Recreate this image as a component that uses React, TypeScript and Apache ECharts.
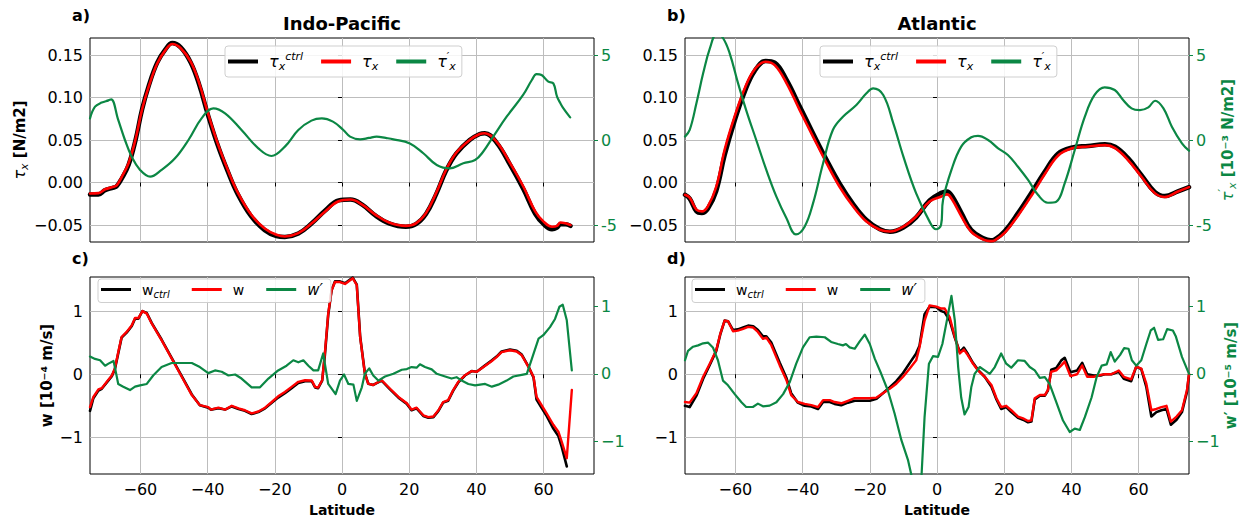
import React, { useEffect, useRef } from 'react';
import * as echarts from 'echarts';

// ---------------- data ----------------
const latTicks = [-60, -40, -20, 0, 20, 40, 60];
const tauTicks = [-0.05, 0, 0.05, 0.1, 0.15];
const tauPrimeTicks = [-5, 0, 5];
const wTicks = [-1, 0, 1];

// panel a: Indo-Pacific wind stress
const latA = [-75, -72.5, -70.5, -68, -67, -65.5, -63.5, -61.5, -59.5, -57.5, -55, -52.5, -50.5, -48, -45, -42.5, -40, -37, -34, -31, -27, -23, -19.5, -17, -13, -9, -5, -1, 2.5, 6, 10, 14, 19, 22, 25, 28, 31, 34, 38, 41, 42.5, 46, 50, 54, 57.5, 60, 62.5, 64, 65, 66.5, 68];
const tauA = [-0.013, -0.0125, -0.008, -0.005, -0.003, 0.007, 0.023, 0.05, 0.086, 0.113, 0.14, 0.156, 0.163, 0.158, 0.142, 0.117, 0.083, 0.046, 0.015, -0.012, -0.038, -0.054, -0.0615, -0.0635, -0.0596, -0.048, -0.034, -0.022, -0.02, -0.026, -0.038, -0.047, -0.051, -0.048, -0.036, -0.0125, 0.015, 0.035, 0.05, 0.057, 0.058, 0.048, 0.023, -0.005, -0.034, -0.046, -0.052, -0.051, -0.047, -0.048, -0.05];
const tauCtrlA = [-0.014, -0.014, -0.009, -0.006, -0.004, 0.005, 0.021, 0.049, 0.086, 0.114, 0.141, 0.157, 0.164, 0.159, 0.141, 0.115, 0.081, 0.044, 0.013, -0.014, -0.04, -0.056, -0.063, -0.064, -0.06, -0.048, -0.033, -0.021, -0.02, -0.026, -0.039, -0.048, -0.052, -0.049, -0.037, -0.014, 0.014, 0.034, 0.05, 0.057, 0.058, 0.047, 0.021, -0.008, -0.037, -0.049, -0.055, -0.053, -0.049, -0.049, -0.051];
const latPA = [-75, -73.5, -71.5, -69.5, -68.7, -66.6, -64.6, -62.6, -60.1, -57.1, -53.7, -49.7, -45.7, -41.8, -38.3, -34.8, -29.9, -24.9, -21, -17, -13, -9.1, -6, -2.7, 0.4, 2.4, 5.4, 8, 10.3, 13, 15.3, 20.2, 24.2, 28.2, 32.1, 36.1, 39.6, 42, 45, 49, 53.9, 56.5, 57.9, 59.4, 61.4, 62.9, 64, 65, 65.9, 67.9];
const tauPrimeA = [1.27, 1.96, 2.2, 2.33, 2.39, 1.18, 0, -0.98, -1.76, -2.16, -1.76, -1.08, 0, 1.27, 1.86, 1.57, 0.59, -0.49, -0.94, -0.39, 0.59, 1.14, 1.27, 1.08, 0.59, 0.2, 0.04, 0.12, 0.2, 0.12, 0.04, -0.2, -0.78, -1.47, -1.67, -1.37, -1.18, -0.69, 0.2, 1.37, 2.65, 3.53, 3.88, 3.82, 3.43, 3.33, 2.55, 2.16, 1.86, 1.33];

// panel b: Atlantic wind stress
const latB = [-75, -73.6, -71.6, -70, -68.2, -65.7, -63.2, -60.2, -57.2, -54.3, -51, -48.3, -44.8, -40.9, -36.9, -32.9, -29, -25, -21, -17, -14, -10, -6.2, -2.2, 1.3, 3, 4.5, 7.3, 10.2, 14, 16, 17.2, 20.2, 24.1, 28.1, 32.1, 36, 40, 45, 50, 53, 56.8, 60.8, 64.8, 67.8, 71.7, 75];
const tauB = [-0.0145, -0.018, -0.032, -0.034, -0.028, -0.005, 0.0385, 0.078, 0.111, 0.133, 0.142, 0.138, 0.117, 0.0855, 0.054, 0.023, -0.005, -0.028, -0.046, -0.0556, -0.0576, -0.0518, -0.04, -0.0224, -0.0165, -0.014, -0.02, -0.04, -0.058, -0.0675, -0.069, -0.068, -0.059, -0.039, -0.0155, 0.01, 0.0315, 0.04, 0.0424, 0.044, 0.0405, 0.0267, 0.007, -0.0125, -0.017, -0.0106, -0.0054];
const tauCtrlB = [-0.0145, -0.019, -0.034, -0.036, -0.031, -0.01, 0.032, 0.073, 0.107, 0.131, 0.143, 0.141, 0.121, 0.09, 0.058, 0.027, -0.001, -0.025, -0.044, -0.055, -0.058, -0.053, -0.041, -0.021, -0.012, -0.0105, -0.016, -0.036, -0.056, -0.066, -0.068, -0.067, -0.057, -0.036, -0.012, 0.013, 0.034, 0.041, 0.043, 0.045, 0.042, 0.029, 0.009, -0.011, -0.016, -0.0105, -0.0055];
const latPB = [-75, -73.6, -71.6, -69.6, -67.6, -65.5, -63.7, -61.7, -59.2, -56.8, -53.8, -50.8, -47.8, -44.8, -42, -39.4, -36.9, -33.9, -31, -28, -24, -21, -19, -16, -13, -10, -6.2, -2.2, -0.3, 1.2, 1.8, 4.3, 7.2, 10.2, 12.2, 15.2, 18.2, 21.1, 24.1, 27.1, 30.1, 33, 35.5, 38, 41, 44, 46.9, 49.9, 52.9, 55.4, 57.9, 60.4, 62.9, 64.9, 67.4, 69.9, 72.9, 75];
const tauPrimeB = [0.2, 0.59, 2.16, 3.92, 5.39, 6.25, 6.0, 5.1, 3.33, 1.76, 0, -1.76, -3.33, -4.6, -5.55, -5.1, -3.73, -1.37, 0.59, 1.37, 2.06, 2.75, 3.04, 2.65, 0.98, -0.98, -3.14, -4.8, -5.25, -5.0, -3.53, -1.76, -0.39, 0.16, 0.24, 0, -0.49, -0.88, -1.57, -2.35, -3.24, -3.69, -3.63, -2.55, -0.59, 1.37, 2.65, 3.1, 2.94, 2.35, 1.86, 1.76, 1.92, 2.31, 1.86, 0.78, -0.2, -0.63];

// panel c: Indo-Pacific vertical velocity
const latC = [-75, -74, -72.5, -71.5, -70, -68.5, -67.6, -66.6, -65.6, -64.1, -62.6, -61.6, -60.6, -59.4, -58.1, -56.6, -53.7, -50.7, -47.7, -44.7, -42.3, -39.8, -39, -36.8, -34.8, -32.8, -30.8, -28.9, -26.9, -24.9, -22.9, -20.9, -19, -17, -15, -13, -11, -9, -8, -7.1, -5.9, -5.1, -4.1, -3.1, -2.1, -0.6, 0.9, 3.2, 4.4, 5.4, 6.8, 7.8, 9.3, 10.3, 11.8, 14.3, 16.8, 19.3, 20.7, 22.2, 24.2, 25.7, 27.2, 28.7, 30.1, 31.6, 33.1, 34.6, 36.6, 38.6, 40.1, 42.1, 44.6, 46, 47.5, 50, 52, 53.5, 55.5, 57, 57.9, 59.4, 60.9, 62.9, 64.4, 65.4, 66.9, 68.4];
const wC = [-0.52, -0.36, -0.24, -0.22, -0.12, -0.02, 0.09, 0.35, 0.59, 0.67, 0.77, 0.89, 0.89, 1.0, 0.96, 0.8, 0.54, 0.25, -0.04, -0.33, -0.49, -0.52, -0.56, -0.53, -0.56, -0.5, -0.54, -0.57, -0.62, -0.59, -0.53, -0.44, -0.35, -0.28, -0.2, -0.12, -0.095, -0.1, -0.2, -0.21, -0.095, 0.33, 0.96, 1.33, 1.46, 1.46, 1.43, 1.52, 1.41, 0.59, 0.01, -0.15, -0.17, -0.14, -0.095, -0.23, -0.36, -0.46, -0.56, -0.53, -0.65, -0.68, -0.67, -0.57, -0.44, -0.41, -0.25, -0.12, -0.016, 0.05, 0.04, 0.116, 0.21, 0.27, 0.35, 0.38, 0.36, 0.3, 0.116, -0.04, -0.36, -0.49, -0.62, -0.8, -0.91, -1.07, -1.33, -0.25];
const latCtrlC = [-75, -74, -72.5, -71.5, -70, -68.5, -67.6, -66.6, -65.6, -64.1, -62.6, -61.6, -60.6, -59.4, -58.1, -56.6, -53.7, -50.7, -47.7, -44.7, -42.3, -39.8, -39, -36.8, -34.8, -32.8, -30.8, -28.9, -26.9, -24.9, -22.9, -20.9, -19, -17, -15, -13, -11, -9, -8, -7.1, -5.9, -5.1, -4.1, -3.1, -2.1, -0.6, 0.9, 3.2, 4.4, 5.4, 6.8, 7.8, 9.3, 10.3, 11.8, 14.3, 16.8, 19.3, 20.7, 22.2, 24.2, 25.7, 27.2, 28.7, 30.1, 31.6, 33.1, 34.6, 36.6, 38.6, 40.1, 42.1, 44.6, 46, 47.5, 50, 52, 53.5, 55.5, 57, 57.9, 59.4, 60.9, 62.9, 64.4, 65.4, 66.9];
const wCtrlC = [-0.58, -0.38, -0.26, -0.23, -0.13, -0.03, 0.08, 0.33, 0.58, 0.66, 0.76, 0.88, 0.88, 1.0, 0.97, 0.81, 0.55, 0.26, -0.03, -0.32, -0.49, -0.53, -0.56, -0.54, -0.56, -0.51, -0.55, -0.58, -0.63, -0.6, -0.54, -0.45, -0.37, -0.3, -0.22, -0.14, -0.11, -0.11, -0.21, -0.22, -0.1, 0.3, 0.94, 1.33, 1.47, 1.47, 1.44, 1.53, 1.42, 0.6, 0.02, -0.15, -0.17, -0.14, -0.1, -0.24, -0.37, -0.47, -0.57, -0.54, -0.66, -0.69, -0.68, -0.58, -0.45, -0.42, -0.26, -0.13, -0.02, 0.05, 0.04, 0.12, 0.22, 0.28, 0.36, 0.39, 0.37, 0.31, 0.12, -0.05, -0.4, -0.53, -0.66, -0.86, -0.98, -1.15, -1.46];
const latPC = [-75, -73.5, -72, -70.5, -69.5, -68, -67.4, -66.6, -65.1, -63.1, -61.6, -60.1, -58.1, -56.2, -53.7, -50.7, -47.7, -44.7, -42.3, -39.8, -37.8, -35.8, -33.8, -31.8, -29.9, -26.9, -24.4, -21.9, -19, -16.5, -14.5, -13, -11.5, -10, -8.5, -7.1, -5.6, -4.1, -1.9, -0.6, 0.6, 1.9, 3.4, 4.4, 5.9, 6.8, 8.1, 9.3, 10.8, 12.8, 15.3, 17.8, 19.3, 20.7, 22.2, 23.2, 24.7, 26.7, 28.2, 30.7, 32.6, 34.1, 35.6, 37.6, 39.6, 41.1, 42.6, 44.6, 46.5, 49, 51, 53.5, 55, 56.5, 58.5, 59.9, 61.9, 63.4, 64.7, 65.7, 66.9, 68.4];
const wPrimeC = [0.255, 0.22, 0.2, 0.12, 0.15, 0.19, 0.05, -0.15, -0.19, -0.24, -0.19, -0.17, -0.15, -0.025, 0.1, 0.16, 0.16, 0.16, 0.1, 0.01, 0.05, 0.03, -0.025, -0.01, -0.07, -0.2, -0.2, -0.07, 0.05, 0.12, 0.2, 0.17, 0.2, 0.12, 0.05, 0.05, 0.3, -0.15, -0.3, -0.1, -0.01, -0.15, -0.16, -0.4, -0.2, 0.0, 0.08, -0.025, -0.1, -0.04, 0.0, 0.06, 0.07, 0.1, 0.09, 0.14, 0.1, 0.065, 0.0, -0.04, -0.07, -0.05, -0.1, -0.15, -0.17, -0.16, -0.15, -0.19, -0.16, -0.1, -0.04, -0.015, 0.0, 0.22, 0.52, 0.57, 0.69, 0.81, 0.99, 1.02, 0.79, 0.05];

// panel d: Atlantic vertical velocity
const latD = [-75, -73.6, -71.6, -69.6, -67.6, -65.7, -64.5, -63.2, -62.2, -60.7, -59.3, -57.7, -56.2, -54.7, -53.3, -51.8, -50.8, -49.3, -46.8, -44.8, -43.4, -41.4, -39.4, -37.4, -35.4, -33.9, -31.9, -30.5, -28.5, -26.5, -24.5, -22, -20, -18, -16.1, -14.1, -12.1, -10.1, -8.1, -6.2, -5.2, -3.7, -2.2, -0.2, 1.3, 2.3, 3.8, 5.3, 6.8, 8, 9.2, 10.7, 12.2, 14.2, 16.2, 17.7, 19.1, 20.6, 22.1, 24.1, 25.6, 27.1, 28.1, 29.1, 30.6, 32.1, 33, 34, 35.5, 37, 38, 39.7, 41.7, 43.2, 44.7, 46.7, 48.7, 49.9, 51.9, 54.1, 55.6, 57.8, 59.3, 60.8, 62.3, 63.8, 65.3, 66.8, 68.3, 69.6, 71.3, 72.9, 74.4, 75];
const wD = [-0.44, -0.45, -0.3, -0.04, 0.17, 0.38, 0.64, 0.85, 0.84, 0.68, 0.69, 0.72, 0.75, 0.74, 0.67, 0.56, 0.58, 0.46, 0.14, -0.095, -0.33, -0.44, -0.47, -0.49, -0.52, -0.41, -0.41, -0.44, -0.46, -0.42, -0.38, -0.38, -0.38, -0.37, -0.3, -0.23, -0.15, -0.04, 0.09, 0.22, 0.43, 0.85, 1.09, 1.07, 1.04, 1.04, 0.9, 0.59, 0.33, 0.39, 0.3, 0.17, 0.06, -0.04, -0.17, -0.38, -0.52, -0.5, -0.57, -0.67, -0.7, -0.74, -0.73, -0.38, -0.33, -0.33, -0.25, 0.04, 0.06, 0.14, 0.2, -0.03, 0.0, 0.14, -0.04, -0.04, -0.01, 0.0, 0.0, 0.06, -0.04, -0.08, 0.12, 0.09, -0.15, -0.57, -0.55, -0.52, -0.5, -0.75, -0.67, -0.57, -0.25, 0.01];
const wCtrlD = [-0.5, -0.52, -0.34, -0.07, 0.15, 0.37, 0.63, 0.85, 0.84, 0.7, 0.71, 0.74, 0.77, 0.76, 0.7, 0.6, 0.6, 0.5, 0.18, -0.06, -0.3, -0.45, -0.5, -0.51, -0.55, -0.44, -0.44, -0.47, -0.49, -0.45, -0.42, -0.42, -0.42, -0.39, -0.3, -0.21, -0.11, 0.02, 0.18, 0.33, 0.45, 0.95, 1.07, 1.06, 1.0, 0.98, 0.85, 0.58, 0.35, 0.42, 0.32, 0.18, 0.07, -0.04, -0.2, -0.4, -0.55, -0.52, -0.6, -0.69, -0.72, -0.76, -0.75, -0.4, -0.34, -0.34, -0.26, 0.07, 0.1, 0.22, 0.26, 0.03, 0.06, 0.18, 0.0, -0.02, -0.02, 0.0, 0.0, 0.04, -0.07, -0.11, 0.12, 0.08, -0.2, -0.67, -0.6, -0.57, -0.55, -0.8, -0.72, -0.6, -0.28, -0.01];
const latPD = [-75, -74.1, -72.6, -71.1, -69.6, -68.1, -66.7, -65.2, -63.7, -62.2, -60.2, -58.2, -56.8, -54.8, -53.3, -51.8, -49.8, -47.8, -45.8, -43.8, -41.9, -39.9, -37.9, -35.9, -33.4, -31.5, -29.5, -28, -27.1, -26, -24.5, -23, -21.5, -20, -18.5, -16.6, -14.6, -12.6, -10.6, -8.6, -7.6, -6, -4.6, -3.7, -2.4, -1.2, 0.3, 1.6, 3.1, 4.3, 5.3, 6.3, 7.2, 8.2, 9.4, 10.2, 11.2, 12.7, 14.2, 15.7, 17.2, 19.1, 20.6, 22.1, 24.1, 26.1, 27.6, 29.1, 30.6, 32.1, 33.5, 35.5, 37.5, 39.5, 41, 42.5, 44, 46, 47.5, 49, 50.5, 51.7, 52.9, 54.5, 55.7, 57, 58, 59.3, 60.8, 62.3, 63.6, 64.6, 65.8, 67.3, 68.5, 70.2, 71.1, 72.9, 75];
const wPrimeD = [0.2, 0.34, 0.4, 0.42, 0.45, 0.46, 0.39, 0.2, -0.1, -0.17, -0.3, -0.42, -0.49, -0.49, -0.44, -0.48, -0.47, -0.42, -0.3, -0.12, 0.15, 0.39, 0.54, 0.55, 0.54, 0.47, 0.44, 0.42, 0.44, 0.39, 0.37, 0.48, 0.58, 0.44, 0.22, 0.0, -0.25, -0.59, -0.98, -1.28, -1.5, -2.3, -1.5, -0.64, 0.15, 0.26, 0.25, 0.44, 0.83, 1.15, 0.79, 0.1, -0.35, -0.6, -0.49, -0.2, 0.0, 0.1, 0.05, 0.0, 0.1, 0.3, 0.15, 0.09, 0.2, 0.19, 0.1, 0.05, -0.06, -0.05, -0.15, -0.42, -0.69, -0.86, -0.81, -0.83, -0.64, -0.35, -0.05, 0.12, 0.14, 0.32, 0.18, 0.28, 0.38, 0.37, 0.2, 0.12, 0.2, 0.44, 0.64, 0.68, 0.5, 0.51, 0.66, 0.64, 0.55, 0.25, 0.0];

// ---------------- styling helpers ----------------
const FONT = '"DejaVu Sans", sans-serif';
const GREEN = '#0b8744';
const GRIDLINE = '#bdbdbd';
const TICK_FS = 16;

const pairs = (xs: number[], ys: number[]) => xs.map((x, i) => [x, ys[i]]);
const isTick = (v: number, ticks: number[]) => ticks.some((t) => Math.abs(t - v) < 1e-9);

const mkRich = (color: string, base: number) => ({
  t: { fontFamily: FONT, fontStyle: 'italic', fontSize: base + 1, color, lineHeight: base + 6 },
  r: { fontFamily: FONT, fontSize: base, color, lineHeight: base + 6 },
  b: { fontFamily: FONT, fontWeight: 'bold', fontSize: base, color, lineHeight: base + 6 },
  s: { fontFamily: FONT, fontStyle: 'italic', fontSize: base - 4, color, lineHeight: base - 3, verticalAlign: 'bottom' },
  p: { fontFamily: FONT, fontStyle: 'italic', fontSize: base - 4, color, lineHeight: base - 3, verticalAlign: 'top' },
});

const LEGEND_TEXT: Record<string, string> = {
  aC: '{t|τ}{s|x}{p|ctrl}', aN: '{t|τ}{s|x}', aD: '{t|τ}{p|′}{s|x}',
  bC: '{t|τ}{s|x}{p|ctrl}', bN: '{t|τ}{s|x}', bD: '{t|τ}{p|′}{s|x}',
  cC: '{r|w}{s|ctrl}', cN: '{r|w}', cD: '{t|w′}',
  dC: '{r|w}{s|ctrl}', dN: '{r|w}', dD: '{t|w′}',
};

const GRIDS = [
  { left: 90, top: 38, width: 504, height: 204 },
  { left: 685, top: 38, width: 504, height: 204 },
  { left: 90, top: 277, width: 504, height: 197 },
  { left: 685, top: 277, width: 504, height: 197 },
];

function buildOption() {
  const grid = GRIDS.map((g) => ({ ...g, show: true, borderColor: '#000', borderWidth: 1, backgroundColor: 'transparent', containLabel: false }));

  const xAxis = GRIDS.map((_, i) => ({
    type: 'value', gridIndex: i, min: -75, max: 75, splitNumber: 7, minInterval: 20, maxInterval: 20,
    axisLine: { show: false },
    axisTick: { show: true, length: 4, lineStyle: { color: '#000', width: 1 }, customValues: latTicks },
    axisLabel: {
      show: i >= 2, color: '#000', fontSize: TICK_FS, fontFamily: FONT, margin: 7, customValues: latTicks,
      formatter: (v: number) => (isTick(v, latTicks) ? (v < 0 ? '−' + Math.abs(v) : String(v)) : ''),
    },
    splitLine: { show: true, lineStyle: { color: GRIDLINE, width: 1 } },
    name: i >= 2 ? 'Latitude' : '', nameLocation: 'middle', nameGap: 29,
    nameTextStyle: { fontFamily: FONT, fontWeight: 'bold', fontSize: 14, color: '#000' },
  }));

  const leftTau = (gi: number, withName: boolean) => ({
    type: 'value', gridIndex: gi, position: 'left', min: -0.07, max: 0.17, splitNumber: 5, minInterval: 0.05, maxInterval: 0.05,
    axisLine: { show: false },
    axisTick: { show: true, length: 4, lineStyle: { color: '#000' }, customValues: tauTicks },
    axisLabel: {
      color: '#000', fontSize: TICK_FS, fontFamily: FONT, margin: 7, customValues: tauTicks,
      formatter: (v: number) => (isTick(v, tauTicks) ? (v < -1e-9 ? '−' : '') + Math.abs(v).toFixed(2) : ''),
    },
    splitLine: { show: true, lineStyle: { color: GRIDLINE, width: 1 } },
    name: withName ? '{t|τ}{s|x}{b| [N/m2]}' : '', nameLocation: 'middle', nameGap: 58, nameRotate: 90,
    nameTextStyle: { color: '#000', rich: mkRich('#000', 15) },
  });
  const rightTau = (gi: number, withName: boolean) => ({
    type: 'value', gridIndex: gi, position: 'right', min: -6, max: 6, splitNumber: 3, minInterval: 5, maxInterval: 5,
    axisLine: { show: false },
    axisTick: { show: true, length: 4, lineStyle: { color: GREEN }, customValues: tauPrimeTicks },
    axisLabel: {
      color: GREEN, fontSize: TICK_FS, fontFamily: FONT, margin: 7, customValues: tauPrimeTicks,
      formatter: (v: number) => (isTick(v, tauPrimeTicks) ? String(v) : ''),
    },
    splitLine: { show: false },
    name: withName ? '{t|τ}{p|′}{s|x}{b| [10⁻³ N/m2]}' : '', nameLocation: 'middle', nameGap: 28, nameRotate: 90,
    nameTextStyle: { color: GREEN, rich: mkRich(GREEN, 15) },
  });
  const leftW = (gi: number, withName: boolean) => ({
    type: 'value', gridIndex: gi, position: 'left', min: -1.58, max: 1.54, splitNumber: 3, minInterval: 1, maxInterval: 1,
    axisLine: { show: false },
    axisTick: { show: true, length: 4, lineStyle: { color: '#000' }, customValues: wTicks },
    axisLabel: {
      color: '#000', fontSize: TICK_FS, fontFamily: FONT, margin: 7, customValues: wTicks,
      formatter: (v: number) => (isTick(v, wTicks) ? (v < 0 ? '−' + Math.abs(v) : String(v)) : ''),
    },
    splitLine: { show: true, lineStyle: { color: GRIDLINE, width: 1 } },
    name: withName ? 'w [10⁻⁴ m/s]' : '', nameLocation: 'middle', nameGap: 36, nameRotate: 90,
    nameTextStyle: { color: '#000', fontFamily: FONT, fontWeight: 'bold', fontSize: 15 },
  });
  const rightW = (gi: number, withName: boolean) => ({
    type: 'value', gridIndex: gi, position: 'right', min: -1.48, max: 1.43, splitNumber: 3, minInterval: 1, maxInterval: 1,
    axisLine: { show: false },
    axisTick: { show: true, length: 4, lineStyle: { color: GREEN }, customValues: wTicks },
    axisLabel: {
      color: GREEN, fontSize: TICK_FS, fontFamily: FONT, margin: 7, customValues: wTicks,
      formatter: (v: number) => (isTick(v, wTicks) ? (v < 0 ? '−' + Math.abs(v) : String(v)) : ''),
    },
    splitLine: { show: false },
    name: withName ? 'w′ [10⁻⁵ m/s]' : '', nameLocation: 'middle', nameGap: 29, nameRotate: 90,
    nameTextStyle: { color: GREEN, fontFamily: FONT, fontWeight: 'bold', fontSize: 15 },
  });

  const yAxis = [
    leftTau(0, true), rightTau(0, false),
    leftTau(1, false), rightTau(1, true),
    leftW(2, true), rightW(2, false),
    leftW(3, false), rightW(3, true),
  ];

  const line = (name: string, xi: number, yi: number, data: number[][], color: string, width: number, smooth: number | boolean) => ({
    type: 'line', name, xAxisIndex: xi, yAxisIndex: yi, data, symbol: 'none', showSymbol: false, smooth,
    lineStyle: { color, width, cap: 'round', join: 'round' }, itemStyle: { color },
    emphasis: { disabled: true }, silent: true, clip: true,
  });

  const series = [
    line('aC', 0, 0, pairs(latA, tauCtrlA), '#000', 4.5, 0.4),
    line('aN', 0, 0, pairs(latA, tauA), '#ff0000', 2.6, 0.4),
    line('aD', 0, 1, pairs(latPA, tauPrimeA), GREEN, 2.2, 0.4),
    line('bC', 1, 2, pairs(latB, tauCtrlB), '#000', 4.5, 0.4),
    line('bN', 1, 2, pairs(latB, tauB), '#ff0000', 2.6, 0.4),
    line('bD', 1, 3, pairs(latPB, tauPrimeB), GREEN, 2.2, 0.4),
    line('cC', 2, 4, pairs(latCtrlC, wCtrlC), '#000', 2.6, false),
    line('cN', 2, 4, pairs(latC, wC), '#ff0000', 2.4, false),
    line('cD', 2, 5, pairs(latPC, wPrimeC), GREEN, 2.2, false),
    line('dC', 3, 6, pairs(latD, wCtrlD), '#000', 2.6, false),
    line('dN', 3, 6, pairs(latD, wD), '#ff0000', 2.4, false),
    line('dD', 3, 7, pairs(latPD, wPrimeD), GREEN, 2.2, false),
  ];

  const legend = (p: string, left: number, top: number, big: boolean) => ({
    left, top, orient: 'horizontal', selectedMode: false,
    padding: big ? [5, 6, 5, 3] : [3, 8, 3, 3],
    itemWidth: 30, itemHeight: big ? 4 : 3, itemGap: big ? 18 : 22, icon: 'rect',
    backgroundColor: 'rgba(255,255,255,0.85)', borderColor: '#cfcfcf', borderWidth: 1, borderRadius: 3,
    data: [p + 'C', p + 'N', p + 'D'],
    formatter: (n: string) => LEGEND_TEXT[n],
    textStyle: { fontFamily: FONT, fontSize: 14, color: '#000', padding: [0, 0, 0, 6], rich: mkRich('#000', big ? 15 : 14) },
  });

  const txt = (text: string, x: number, y: number, size: number, align: string) => ({
    type: 'text', x, y, silent: true,
    style: { text, fill: '#000', font: `bold ${size}px ${FONT}`, align, textAlign: align, verticalAlign: 'middle', textVerticalAlign: 'middle' },
  });

  return {
    animation: false,
    backgroundColor: '#ffffff',
    grid, xAxis, yAxis, series,
    legend: [legend('a', 225, 46, true), legend('b', 820, 46, true), legend('c', 98, 279, false), legend('d', 692, 279, false)],
    graphic: [
      txt('a)', 72, 15, 16, 'left'),
      txt('Indo-Pacific', 342, 23, 18, 'center'),
      txt('b)', 667, 15, 16, 'left'),
      txt('Atlantic', 937, 23, 18, 'center'),
      txt('c)', 72, 258, 16, 'left'),
      txt('d)', 667, 258, 16, 'left'),
    ],
  };
}

export default function App() {
  const ref = useRef<HTMLDivElement>(null);
  useEffect(() => {
    document.body.style.margin = '0';
    const chart = echarts.init(ref.current as HTMLDivElement, null, { renderer: 'svg', width: 1252, height: 522 });
    chart.setOption(buildOption() as any);
    return () => chart.dispose();
  }, []);
  return <div ref={ref} style={{ position: 'absolute', left: 0, top: 0, width: 1252, height: 522, background: '#fff' }} />;
}
